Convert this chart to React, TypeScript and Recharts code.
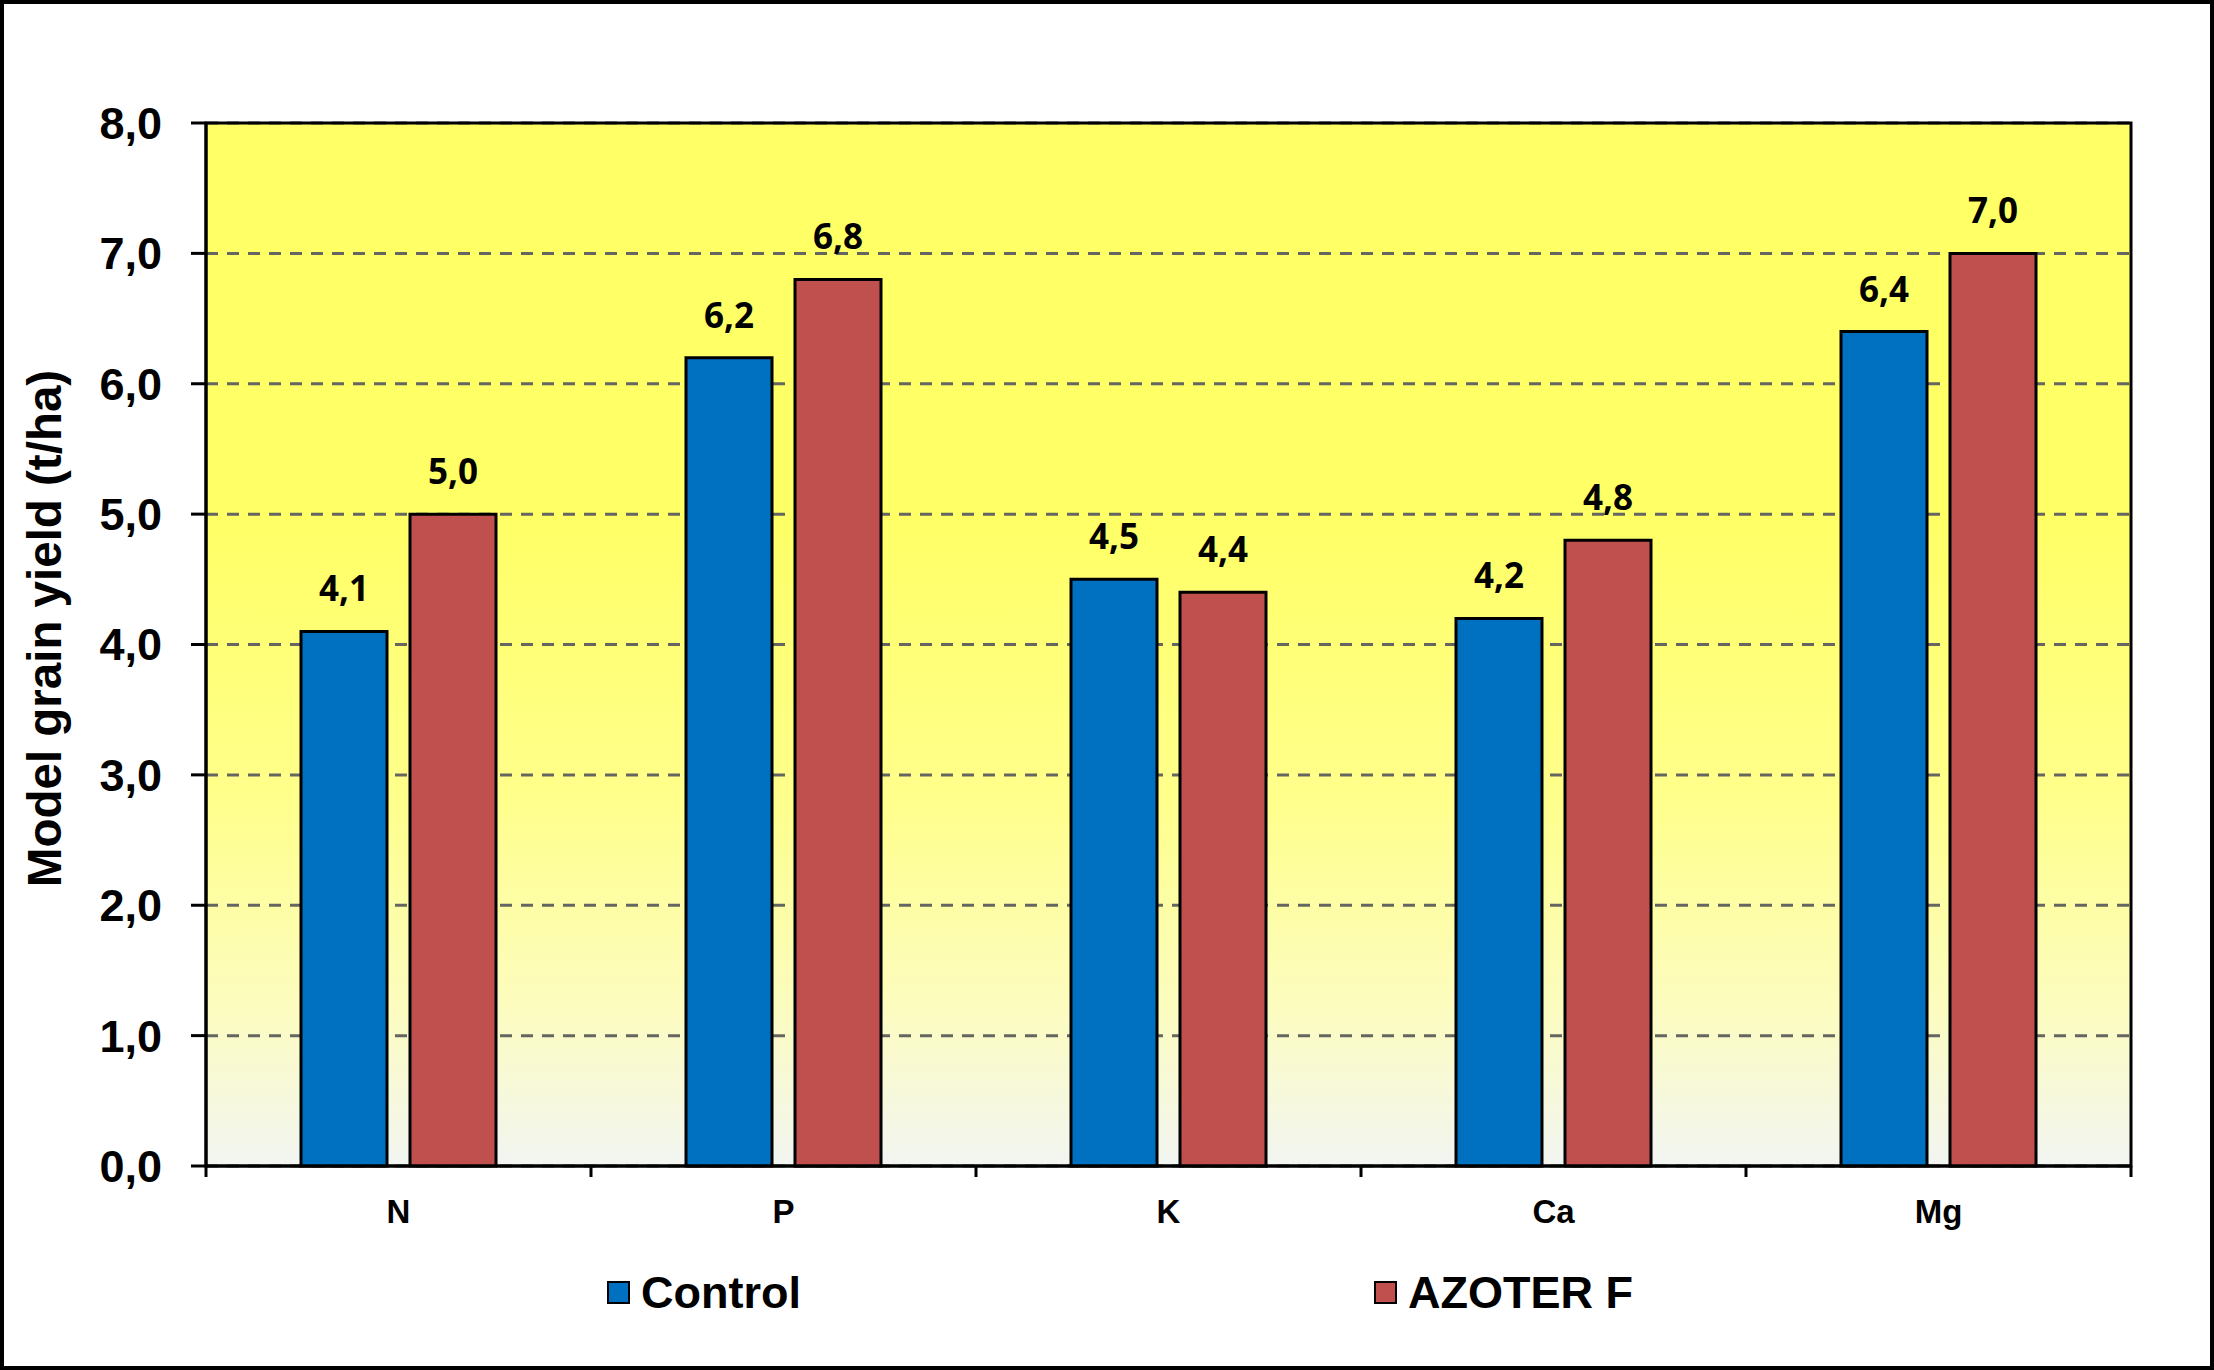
import React from 'react';
import {
  BarChart,
  Bar,
  XAxis,
  YAxis,
  CartesianGrid,
  LabelList,
  Legend,
  ReferenceArea,
  Label,
} from 'recharts';

const categories = ['N', 'P', 'K', 'Ca', 'Mg'];
const controlValues = [4.1, 6.2, 4.5, 4.2, 6.4];
const azoterValues = [5.0, 6.8, 4.4, 4.8, 7.0];
const yTicks = [0, 1, 2, 3, 4, 5, 6, 7, 8];
const seriesKeys = ['control', 'azoter'];
const seriesNames = { control: 'Control', azoter: 'AZOTER F' };

const data = categories.map((c, i) => ({
  name: c,
  control: controlValues[i],
  azoter: azoterValues[i],
}));

const W = 2214;
const H = 1370;
const MARGIN = { top: 123, right: 83, left: 0, bottom: 144 };
const Y_AXIS_W = 206;
const X_AXIS_H = 60;
const X_TICK_SIZE = 11;
const X_TICK_MARGIN = 23;
const PLOT_W = W - MARGIN.right - Y_AXIS_W;

const FONT = '"Liberation Sans", Arial, Helvetica, sans-serif';
const LABEL_FONT = '"Open Sans", "Noto Sans", sans-serif';

const fmt = (v: number) => Number(v).toFixed(1).replace('.', ',');

const XTick = (props: any) => {
  const { x, y, payload, index } = props;
  const half =
    payload && typeof payload.offset === 'number' && payload.offset > 0
      ? payload.offset
      : PLOT_W / categories.length / 2;
  const axisY = y - X_TICK_SIZE - X_TICK_MARGIN;
  const last = index === categories.length - 1;
  return (
    <g>
      <line
        x1={x - half}
        x2={x - half}
        y1={axisY}
        y2={axisY + X_TICK_SIZE}
        stroke="#000"
        strokeWidth={3}
      />
      {last && (
        <line
          x1={x + half}
          x2={x + half}
          y1={axisY}
          y2={axisY + X_TICK_SIZE}
          stroke="#000"
          strokeWidth={3}
        />
      )}
      <text
        x={x}
        y={y}
        dy="0.71em"
        textAnchor="middle"
        fontFamily={FONT}
        fontWeight="bold"
        fontSize={33}
        fill="#000"
      >
        {payload.value}
      </text>
    </g>
  );
};

const YTitle = (props: any) => {
  const vb = props.viewBox || { x: 0, y: MARGIN.top, width: Y_AXIS_W, height: 1043 };
  const cx = vb.x + 44;
  const cy = vb.y + vb.height / 2 - 16;
  return (
    <text
      x={cx}
      y={cy}
      transform={`rotate(-90, ${cx}, ${cy})`}
      textAnchor="middle"
      dominantBaseline="central"
      fontFamily={FONT}
      fontWeight="bold"
      fontSize={47.5}
      fill="#000"
    >
      Model grain yield (t/ha)
    </text>
  );
};

const LegendContent = (props: any) => {
  const payload = [...(props.payload || [])].sort(
    (a: any, b: any) => seriesKeys.indexOf(a.dataKey) - seriesKeys.indexOf(b.dataKey)
  );
  return (
    <div
      style={{
        display: 'flex',
        alignItems: 'center',
        height: 0,
        paddingLeft: 607,
        boxSizing: 'border-box',
      }}
    >
      {payload.map((p: any) => (
        <div
          key={p.value}
          style={{ width: 767, display: 'flex', alignItems: 'center', height: 0 }}
        >
          <div
            style={{
              width: 19,
              height: 19,
              background: p.color,
              border: '2px solid #000',
              flex: '0 0 auto',
            }}
          />
          <span
            style={{
              marginLeft: 11,
              fontFamily: FONT,
              fontWeight: 'bold',
              fontSize: 45,
              color: '#000',
              lineHeight: 1,
              whiteSpace: 'nowrap',
            }}
          >
            {p.value}
          </span>
        </div>
      ))}
    </div>
  );
};

export default function App() {
  return (
    <div
      style={{
        position: 'absolute',
        left: 0,
        top: 0,
        width: W,
        height: H,
        background: '#fff',
        overflow: 'hidden',
      }}
    >
      <BarChart
        width={W}
        height={H}
        data={data}
        margin={MARGIN}
        barSize={86}
        barGap={23}
      >
        <defs>
          <linearGradient id="plotBg" x1="0" y1="0" x2="0" y2="1">
            <stop offset="0%" stopColor="#FFFF66" />
            <stop offset="38%" stopColor="#FFFF66" />
            <stop offset="65%" stopColor="#FFFF8C" />
            <stop offset="85%" stopColor="#FCFCC0" />
            <stop offset="100%" stopColor="#F2F5F2" />
          </linearGradient>
        </defs>
        <CartesianGrid
          vertical={false}
          fill="url(#plotBg)"
          stroke="#666660"
          strokeWidth={3}
          strokeDasharray="12 9"
        />
        <XAxis
          dataKey="name"
          height={X_AXIS_H}
          tickLine={false}
          tickSize={X_TICK_SIZE}
          tickMargin={X_TICK_MARGIN}
          axisLine={{ stroke: '#000', strokeWidth: 3 }}
          tick={<XTick />}
          interval={0}
        />
        <YAxis
          width={Y_AXIS_W}
          domain={[0, 8]}
          ticks={yTicks}
          interval={0}
          tickFormatter={fmt}
          tickSize={15}
          tickMargin={29}
          tickLine={{ stroke: '#000', strokeWidth: 3 }}
          axisLine={{ stroke: '#000', strokeWidth: 3 }}
          tick={{ fontFamily: FONT, fontWeight: 'bold', fontSize: 45, fill: '#000' }}
        >
          <Label content={<YTitle />} />
        </YAxis>
        <ReferenceArea
          y1={0}
          y2={8}
          fill="none"
          fillOpacity={0}
          stroke="#000"
          strokeWidth={3}
          ifOverflow="visible"
        />
        <Legend
          content={<LegendContent />}
          itemSorter={null as any}
          wrapperStyle={{ position: 'absolute', top: 1292, left: 0, width: W, height: 0 }}
        />
        <Bar
          dataKey="control"
          name={seriesNames.control}
          fill="#0070C0"
          stroke="#000"
          strokeWidth={3}
          isAnimationActive={false}
        >
          <LabelList
            dataKey="control"
            position="top"
            offset={30}
            formatter={fmt}
            style={{ fontFamily: LABEL_FONT, fontWeight: 700, fontSize: 35, fill: '#000' }}
          />
        </Bar>
        <Bar
          dataKey="azoter"
          name={seriesNames.azoter}
          fill="#C0504D"
          stroke="#000"
          strokeWidth={3}
          isAnimationActive={false}
        >
          <LabelList
            dataKey="azoter"
            position="top"
            offset={30}
            formatter={fmt}
            style={{ fontFamily: LABEL_FONT, fontWeight: 700, fontSize: 35, fill: '#000' }}
          />
        </Bar>
      </BarChart>
      <div
        style={{
          position: 'absolute',
          left: 0,
          top: 0,
          width: W,
          height: H,
          border: '4px solid #000',
          boxSizing: 'border-box',
          pointerEvents: 'none',
        }}
      />
    </div>
  );
}
